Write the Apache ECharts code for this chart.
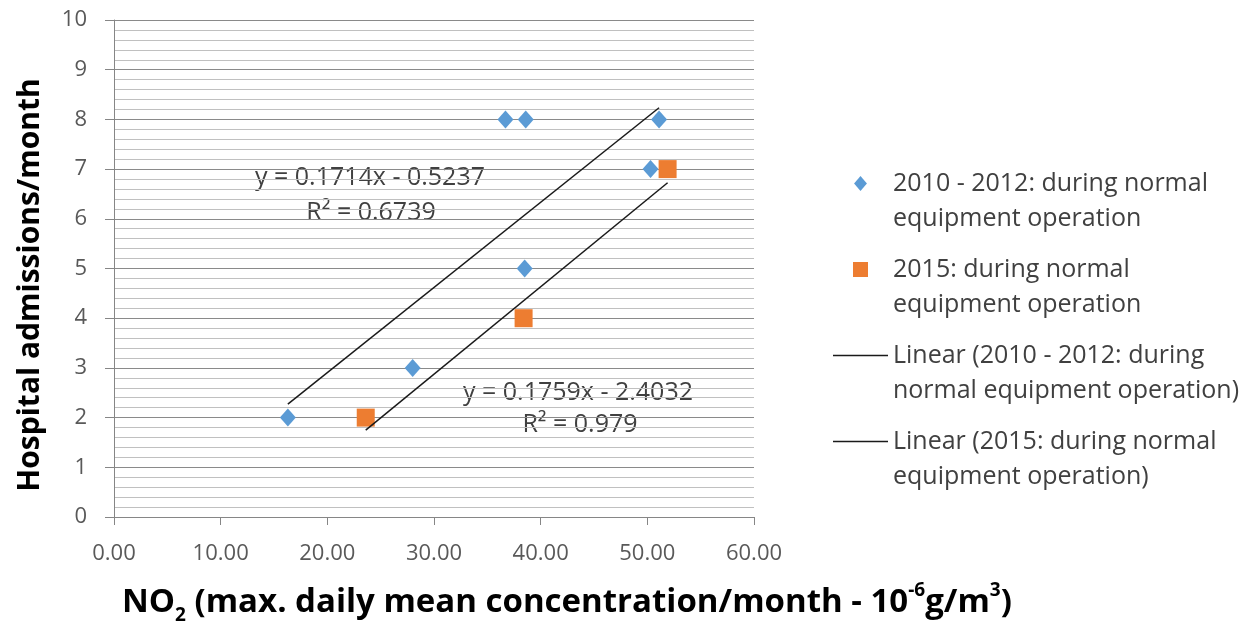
<!DOCTYPE html>
<html>
<head>
<meta charset="utf-8">
<script src="https://cdn.jsdelivr.net/npm/echarts@6/dist/echarts.min.js"></script>
<style>
  html, body { margin: 0; padding: 0; background: #fff; }
  #chart { width: 1256px; height: 626px; }
</style>
</head>
<body>
<div id="chart"></div>
<script>
  // 2010 - 2012 points (NO2, admissions)
  const no2Early = [16.3, 28.0, 36.7, 38.6, 38.5, 50.3, 51.1]
  const admEarly = [2, 3, 8, 8, 5, 7, 8]
  // 2015 points
  const no2Late = [23.6, 38.4, 51.9]
  const admLate = [2, 4, 7]
  // Excel trendline coefficients [slope, intercept]
  const fitEarly = [0.1714, -0.5237]
  const fitLate = [0.1759, -2.4032]
  const xTicks = [0, 10, 20, 30, 40, 50, 60]
  const yTicks = [0, 1, 2, 3, 4, 5, 6, 7, 8, 9, 10]

  const nameEarly = '2010 - 2012: during normal equipment operation'
  const nameLate = '2015: during normal equipment operation'
  const nameFitEarly = 'Linear (2010 - 2012: during normal equipment operation)'
  const nameFitLate = 'Linear (2015: during normal equipment operation)'
  const legendText = {}
  legendText[nameEarly] = ['2010 - 2012: during normal', 'equipment operation']
  legendText[nameLate] = ['2015: during normal', 'equipment operation']
  legendText[nameFitEarly] = ['Linear (2010 - 2012: during', 'normal equipment operation)']
  legendText[nameFitLate] = ['Linear (2015: during normal', 'equipment operation)']

  const FONT = '"Open Sans", "Liberation Sans", sans-serif'
  const LINE_ICON = 'path://M0,0H55V1.6H0Z'

  function pairs(xs, ys) {
    return xs.map((x, i) => [x, ys[i]])
  }
  // trendline drawn over the x range of its own points
  function trend(xs, fit) {
    const lo = Math.min(...xs), hi = Math.max(...xs)
    return [[lo, fit[0] * lo + fit[1]], [hi, fit[0] * hi + fit[1]]]
  }
  function eqText(x, y, text) {
    return {
      type: 'text', x: x, y: y,
      style: { text: text, font: '25px ' + FONT, fill: '#404040', textAlign: 'center', textVerticalAlign: 'middle' }
    }
  }

  let myChart = echarts.init(document.getElementById('chart'))
  myChart.setOption({
    animation: false,
    backgroundColor: '#fff',
    grid: { left: 114, right: 502, top: 20, bottom: 109 },
    xAxis: {
      type: 'value',
      min: xTicks[0],
      max: xTicks[xTicks.length - 1],
      interval: xTicks[1] - xTicks[0],
      axisLine: { show: true, lineStyle: { color: '#868686', width: 1 } },
      axisTick: { show: true, length: 8, lineStyle: { color: '#868686' } },
      splitLine: { show: false },
      axisLabel: {
        margin: 26,
        fontFamily: FONT,
        fontSize: 22,
        color: '#595959',
        formatter: v => v.toFixed(2)
      }
    },
    yAxis: {
      type: 'value',
      min: yTicks[0],
      max: yTicks[yTicks.length - 1],
      interval: yTicks[1] - yTicks[0],
      axisLine: { show: true, lineStyle: { color: '#868686', width: 1 } },
      axisTick: { show: true, length: 9, lineStyle: { color: '#868686' } },
      minorTick: { show: false, splitNumber: 5 },
      splitLine: { show: true, lineStyle: { color: '#8a8a8a', width: 1.2 } },
      minorSplitLine: { show: true, lineStyle: { color: '#c0c0c0', width: 1 } },
      axisLabel: {
        margin: 27,
        fontFamily: FONT,
        fontSize: 22,
        color: '#595959'
      }
    },
    legend: {
      orient: 'vertical',
      left: 833,
      top: 171,
      padding: 0,
      itemGap: 26,
      itemWidth: 55,
      itemHeight: 15,
      symbolKeepAspect: true,
      selectedMode: false,
      data: [
        { name: nameEarly, icon: 'path://M6,0L12,7L6,14L0,7Z' },
        { name: nameLate, icon: 'path://M0,0H10V10H0Z' },
        { name: nameFitEarly, icon: LINE_ICON },
        { name: nameFitLate, icon: LINE_ICON }
      ],
      formatter: name => legendText[name].map(s => '{t|' + s + '}').join('\n'),
      textStyle: {
        padding: [35, 0, 0, 0],
        rich: {
          t: { fontFamily: FONT, fontSize: 25, lineHeight: 35, color: '#404040' }
        }
      }
    },
    graphic: [
      eqText(370, 178, 'y = 0.1714x - 0.5237'),
      eqText(371, 213, 'R² = 0.6739'),
      eqText(578, 393, 'y = 0.1759x - 2.4032'),
      eqText(580, 425, 'R² = 0.979'),
      {
        // x axis title
        type: 'text', x: 122, y: 603,
        style: {
          text: '{m|NO}{sub|2}{m| (max. daily mean concentration/month - 10}{sup|-6}{m|g/m}{sup|3}{m|)}',
          textVerticalAlign: 'middle',
          rich: {
            m: { fontFamily: FONT, fontWeight: 'bold', fontSize: 33, lineHeight: 44, color: '#000' },
            sub: { fontFamily: FONT, fontWeight: 'bold', fontSize: 19, lineHeight: 22, verticalAlign: 'bottom', color: '#000' },
            sup: { fontFamily: FONT, fontWeight: 'bold', fontSize: 19, lineHeight: 26, verticalAlign: 'top', color: '#000' }
          }
        }
      },
      {
        // y axis title
        type: 'text', x: 30, y: 285, rotation: Math.PI / 2,
        style: {
          text: 'Hospital admissions/month',
          font: 'bold 30px ' + FONT,
          fill: '#000',
          textAlign: 'center',
          textVerticalAlign: 'middle'
        }
      }
    ],
    series: [
      {
        name: nameEarly,
        type: 'scatter',
        symbol: 'diamond',
        symbolSize: [16, 18],
        itemStyle: { color: '#5b9bd5', opacity: 1 },
        data: pairs(no2Early, admEarly),
        z: 3
      },
      {
        name: nameLate,
        type: 'scatter',
        symbol: 'rect',
        symbolSize: 18,
        itemStyle: { color: '#ed7d31', opacity: 1 },
        data: pairs(no2Late, admLate),
        z: 3
      },
      {
        name: nameFitEarly,
        type: 'line',
        symbol: 'none',
        lineStyle: { color: '#1a1a1a', width: 1.5 },
        itemStyle: { color: '#1a1a1a' },
        data: trend(no2Early, fitEarly),
        z: 4
      },
      {
        name: nameFitLate,
        type: 'line',
        symbol: 'none',
        lineStyle: { color: '#1a1a1a', width: 1.5 },
        itemStyle: { color: '#1a1a1a' },
        data: trend(no2Late, fitLate),
        z: 4
      }
    ]
  })
</script>
</body>
</html>
